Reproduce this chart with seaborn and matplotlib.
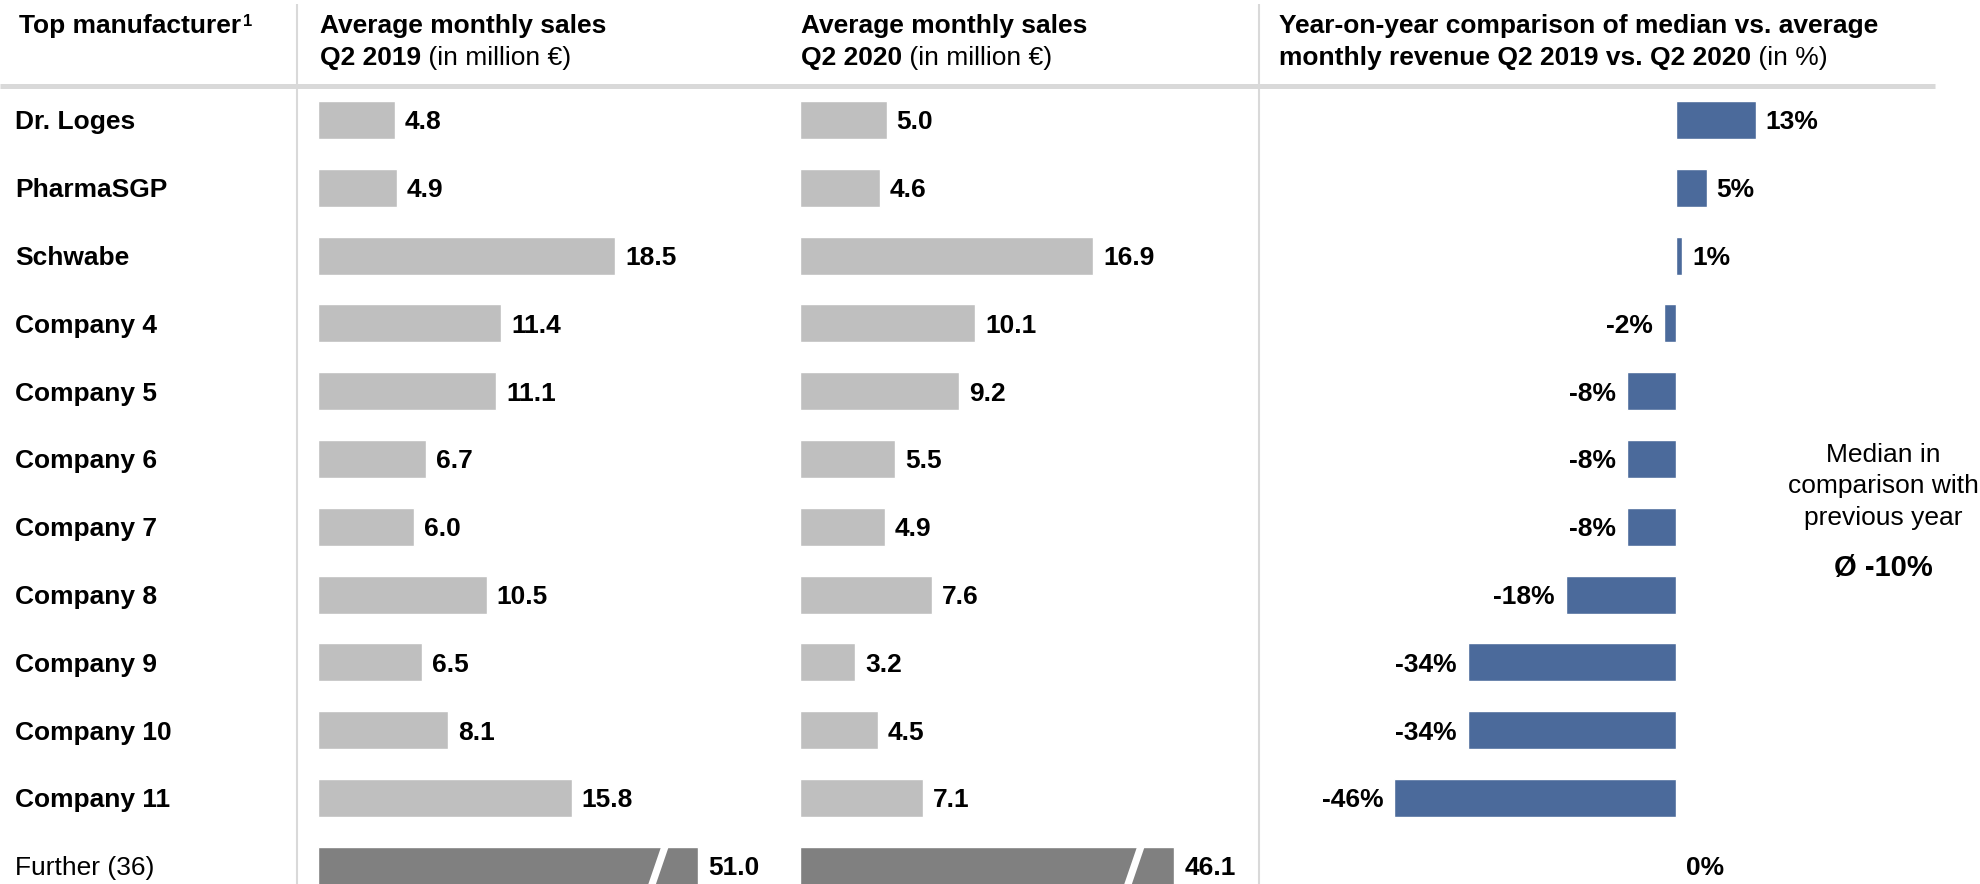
import matplotlib
matplotlib.use("Agg")
import matplotlib.pyplot as plt
import seaborn as sns
import pandas as pd
from matplotlib.patches import Polygon

# ---------------- data ----------------
manufacturers = ["Dr. Loges", "PharmaSGP", "Schwabe", "Company 4", "Company 5",
                 "Company 6", "Company 7", "Company 8", "Company 9", "Company 10",
                 "Company 11", "Further (36)"]
sales_2019 = [4.8, 4.9, 18.5, 11.4, 11.1, 6.7, 6.0, 10.5, 6.5, 8.1, 15.8, 51.0]
sales_2020 = [5.0, 4.6, 16.9, 10.1, 9.2, 5.5, 4.9, 7.6, 3.2, 4.5, 7.1, 46.1]
yoy_change = [13, 5, 1, -2, -8, -8, -8, -18, -34, -34, -46, 0]
segments = ["top"] * 11 + ["further"]
# length at which the broken "Further" bars are cut (axis break)
break_cap_2019 = 23.7
break_cap_2020 = 21.6
median_change = -10

col_headers = [
    ("Top manufacturer", None, None),
    ("Average monthly sales", "Q2 2019", " (in million €)"),
    ("Average monthly sales", "Q2 2020", " (in million €)"),
    ("Year-on-year comparison of median vs. average", "monthly revenue Q2 2019 vs. Q2 2020", " (in %)"),
]

# ---------------- style ----------------
sns.set_style("white")
plt.rcParams["font.family"] = ["Liberation Sans", "DejaVu Sans"]
plt.rcParams["text.color"] = "black"

GRAY = "#bfbfbf"
DARK = "#808080"
BLUE = "#4b6a9b"
SEP = "#d9d9d9"
FS = 19

W, H = 1980, 884
fig = plt.figure(figsize=(W / 100, H / 100), dpi=100)

bg = fig.add_axes([0, 0, 1, 1])
bg.set_xlim(0, W)
bg.set_ylim(H, 0)
bg.axis("off")

df = pd.DataFrame({
    "manufacturer": manufacturers,
    "sales_2019": sales_2019,
    "sales_2020": sales_2020,
    "yoy": yoy_change,
    "segment": segments,
})
df["bar_2019"] = df["sales_2019"].where(df["segment"] == "top", break_cap_2019)
df["bar_2020"] = df["sales_2020"].where(df["segment"] == "top", break_cap_2020)

Y_TOP, Y_BOT = 83, 884
ROW0, ROWSTEP = 120, 67.8
ylim = ((Y_BOT - ROW0) / ROWSTEP, (Y_TOP - ROW0) / ROWSTEP)


def px_axes(x0, x1):
    return fig.add_axes([x0 / W, 1 - Y_BOT / H, (x1 - x0) / W, (Y_BOT - Y_TOP) / H])


def style(ax, xlim):
    ax.set_xlim(*xlim)
    ax.set_ylim(*ylim)
    ax.axis("off")


# separators
for x in (297, 1259):
    bg.plot([x, x], [4, H], color=SEP, lw=1.5, solid_capstyle="butt")
bg.plot([0, 1935], [86, 86], color=SEP, lw=3.6, solid_capstyle="butt")

# ---------------- row labels ----------------
ax0 = px_axes(0, 297)
style(ax0, (0, 297))
for i, name in enumerate(manufacturers):
    ax0.text(15, i, name, fontsize=FS, va="center_baseline", ha="left", color="black",
             fontweight="bold" if segments[i] == "top" else "normal")

palette = {"top": GRAY, "further": DARK}

# ---------------- column 1 & 2 ----------------
cols = [
    (318, 780, 16.05, "bar_2019", "sales_2019"),
    (800, 1240, 17.33, "bar_2020", "sales_2020"),
]
axes_sales = []
for x0, x1, ppu, barcol, valcol in cols:
    ax = px_axes(x0, x1)
    sns.barplot(data=df, y="manufacturer", x=barcol, hue="segment", palette=palette,
                dodge=False, width=0.56, saturation=1, legend=False, orient="h", ax=ax)
    style(ax, (0, (x1 - x0) / ppu))
    for i, (bv, v) in enumerate(zip(df[barcol], df[valcol])):
        ax.annotate(f"{v:.1f}", xy=(bv, i), xytext=(10, 0), textcoords="offset pixels",
                    va="center_baseline", ha="left", fontsize=FS, fontweight="bold",
                    color="black")
    axes_sales.append((ax, barcol))

fig.canvas.draw()
# axis break marks on the "Further" bars
for ax, barcol in axes_sales:
    i = len(manufacturers) - 1
    xe, yc = ax.transData.transform((df[barcol].iloc[i], i))
    yc = H - yc
    xc = xe - 40
    half_h = 0.56 * ROWSTEP / 2
    s = 6.5
    gw = 3.8
    yt, yb = yc - half_h - 3, yc + half_h + 3
    cxt = xc + s * (yc - yt) / half_h
    cxb = xc + s * (yc - yb) / half_h
    poly = Polygon([(cxt - gw, yt), (cxt + gw, yt), (cxb + gw, yb), (cxb - gw, yb)],
                   closed=True, facecolor="white", edgecolor="none",
                   transform=bg.transData, zorder=5, clip_on=False)
    ax.add_artist(poly)

# ---------------- column 3 ----------------
ax3 = px_axes(1270, 1935)
zero_px, ppu3 = 1676, 6.125
sns.barplot(data=df, y="manufacturer", x="yoy", color=BLUE, width=0.56, saturation=1,
            orient="h", ax=ax3)
style(ax3, ((1270 - zero_px) / ppu3, (1935 - zero_px) / ppu3))
for i, v in enumerate(yoy_change):
    if v < 0:
        ax3.annotate(f"{v}%", xy=(v, i), xytext=(-11, 0), textcoords="offset pixels",
                     va="center_baseline", ha="right", fontsize=FS, fontweight="bold",
                     color="black")
    else:
        ax3.annotate(f"{v}%", xy=(v, i), xytext=(10, 0), textcoords="offset pixels",
                     va="center_baseline", ha="left", fontsize=FS, fontweight="bold",
                     color="black")

# median annotation
for txt, yb in zip(["Median in", "comparison with", "previous year"], [462, 493, 525]):
    bg.text(1883, yb, txt, fontsize=FS, ha="center", va="baseline", color="black")
bg.text(1883, 576, f"Ø {median_change}%", fontsize=21, fontweight="bold",
        ha="center", va="baseline", color="black")

# ---------------- headers ----------------
hx = [19, 320, 801, 1279]
for x, (l1, l2b, l2n) in zip(hx, col_headers):
    t1 = bg.text(x, 33, l1, fontsize=FS, fontweight="bold", ha="left", va="baseline",
                 color="black")
    if l2b is None:
        bg.annotate("1", xy=(1, 0), xycoords=t1, xytext=(2, 9), textcoords="offset pixels",
                    fontsize=12, fontweight="bold", ha="left", va="bottom", color="black")
        continue
    t2 = bg.text(x, 65, l2b, fontsize=FS, fontweight="bold", ha="left", va="baseline",
                 color="black")
    bg.annotate(l2n, xy=(1, 0), xycoords=t2, fontsize=FS, ha="left", va="bottom",
                color="black")

fig.savefig("out.png", dpi=100)
